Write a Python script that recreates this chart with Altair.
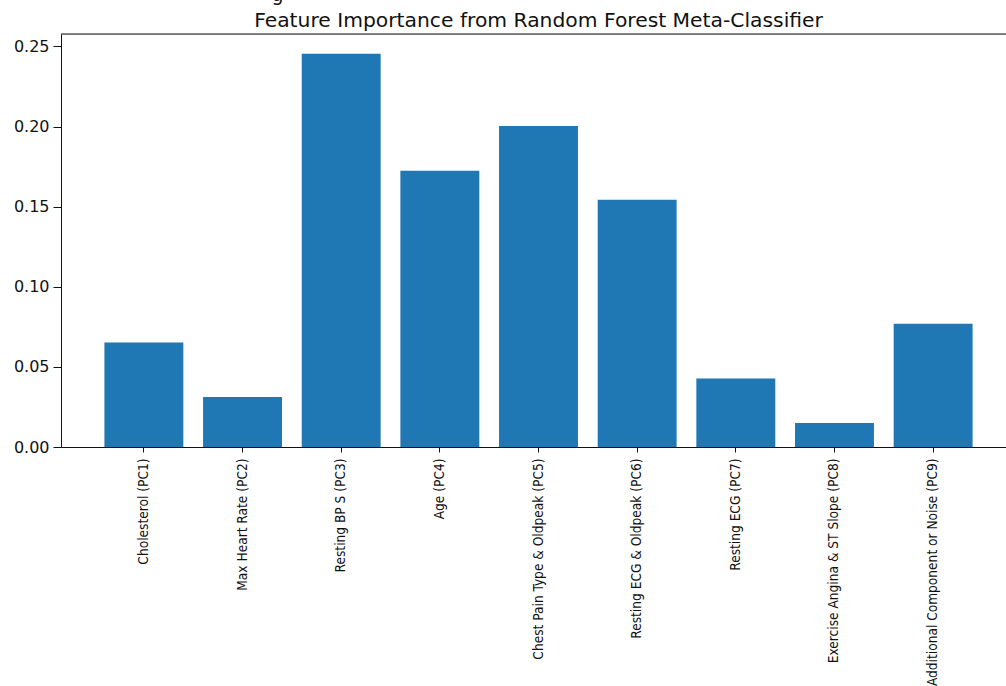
import altair as alt
import pandas as pd

# Principal components fed to the meta-classifier and their importances
components = [
    "Cholesterol (PC1)",
    "Max Heart Rate (PC2)",
    "Resting BP S (PC3)",
    "Age (PC4)",
    "Chest Pain Type & Oldpeak (PC5)",
    "Resting ECG & Oldpeak (PC6)",
    "Resting ECG (PC7)",
    "Exercise Angina & ST Slope (PC8)",
    "Additional Component or Noise (PC9)",
]
importance = [0.0653, 0.0312, 0.2455, 0.1725, 0.2003, 0.1544, 0.0428, 0.0150, 0.0769]
y_ticks = [0.0, 0.05, 0.10, 0.15, 0.20, 0.25]

title_text = ["Feature Importance from Random Forest Meta-Classifier"]
# tail of the figure heading that sits above the panel
heading_fragment = ["g"]

df = pd.DataFrame({"component": components, "importance": importance})

FONT = "DejaVu Sans"
INK = "#111111"
PLOT_W = 945      # visible part of the panel
RANGE_W = 955     # full panel width; its right end runs past the page edge

bars = alt.Chart(df).mark_bar(color="#1f77b4").encode(
    x=alt.X(
        "component:N",
        sort=components,
        scale=alt.Scale(paddingInner=0.2, paddingOuter=0.44, range=[0, RANGE_W]),
        axis=alt.Axis(
            title=None,
            labelAngle=-90,
            labelAlign="right",
            labelBaseline="middle",
            labelFont="DejaVu Sans Condensed, DejaVu Sans",
            labelFontSize=13.6,
            labelColor=INK,
            labelPadding=6,
            labelLimit=500,
            tickSize=5,
            tickColor=INK,
            domainColor=INK,
            labelOverlap=False,
        ),
    ),
    y=alt.Y(
        "importance:Q",
        scale=alt.Scale(domain=[0, 0.2578], nice=False, zero=True),
        axis=alt.Axis(
            title=None,
            values=y_ticks,
            format=".2f",
            labelFont=FONT,
            labelFontSize=16,
            labelColor=INK,
            labelPadding=4,
            tickSize=8,
            tickColor=INK,
            domainColor=INK,
            grid=False,
        ),
    ),
)

# top spine of the panel
top_spine = alt.Chart(pd.DataFrame({"edge": ["top"]})).mark_rule(
    color=INK, strokeWidth=1
).encode(x=alt.value(0), x2=alt.value(RANGE_W), y=alt.value(0))

title = alt.Chart(pd.DataFrame({"t": title_text})).mark_text(
    font=FONT, fontSize=20.3, align="center", baseline="alphabetic", color=INK
).encode(text="t:N", x=alt.value(RANGE_W / 2), y=alt.value(-7.3))

fragment = alt.Chart(pd.DataFrame({"t": heading_fragment})).mark_text(
    font=FONT, fontSize=19, align="center", baseline="alphabetic", color=INK
).encode(text="t:N", x=alt.value(216.5), y=alt.value(-33.5))

chart = (
    alt.layer(bars, top_spine, title, fragment)
    .properties(
        width=PLOT_W,
        height=413,
        autosize=alt.AutoSizeParams(type="none"),
        padding={"left": 61, "top": 34, "right": 0, "bottom": 250},
    )
    .configure_view(stroke=None)
    .configure(background="white")
)

chart.save("out.html", embed_options={"renderer": "svg", "actions": False})
